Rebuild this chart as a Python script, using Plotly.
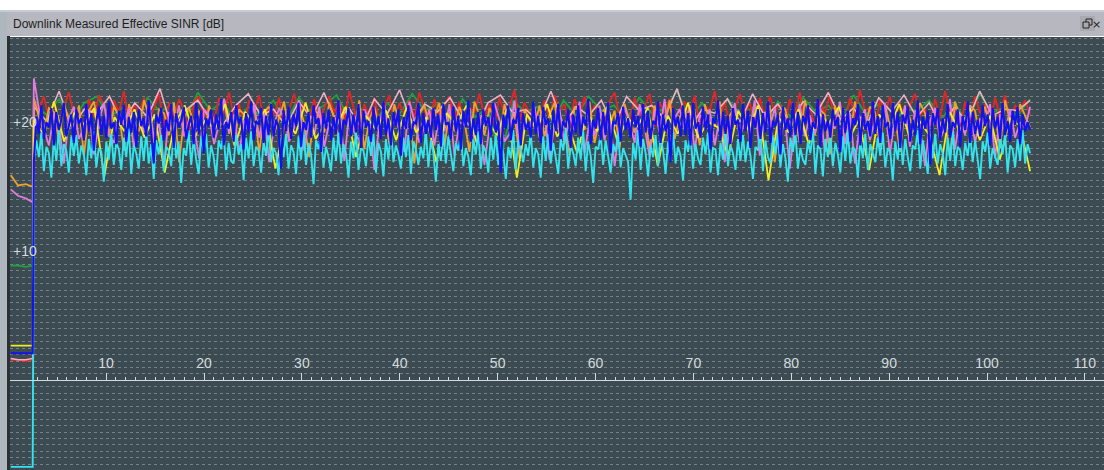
import numpy as np
import plotly.graph_objects as go

# ---- data: per-UE downlink effective SINR samples [dB] ----
PRE_T = [0.25, 1.0, 1.8, 2.5]          # samples before attach
RUN_START, RUN_END = 2.62, 104.4        # span of the measured run

blue_pre = [2.1, 2.1, 2.1, 2.1]
blue = [
    17.0, 20.4, 19.1, 21.3, 18.7, 20.0, 19.6, 21.1, 18.2, 20.8, 19.4, 20.2, 21.5, 18.9, 19.7, 20.6, 18.4, 21.0, 19.9, 20.3,
    18.6, 21.4, 19.3, 20.7, 17.8, 20.1, 21.2, 19.0, 20.5, 18.8, 21.6, 19.5, 20.0, 18.3, 20.9, 19.8, 21.3, 18.5, 20.4, 19.2,
    20.8, 18.1, 21.0, 19.7, 20.3, 18.9, 21.7, 19.4, 16.8, 20.6, 19.9, 21.1, 18.6, 20.2, 19.3, 21.4, 18.0, 20.7, 19.6, 20.1,
    21.2, 18.7, 19.8, 20.5, 18.3, 21.5, 19.1, 20.9, 17.6, 20.3, 19.7, 21.0, 18.8, 20.6, 19.4, 21.8, 18.2, 20.0, 19.5, 20.8,
    18.5, 21.3, 19.9, 20.4, 17.9, 20.7, 19.2, 21.6, 18.6, 20.1, 19.8, 21.1, 18.4, 20.5, 19.0, 21.4, 18.9, 20.2, 19.6, 16.4,
    20.9, 19.3, 21.2, 18.7, 20.6, 19.7, 21.5, 18.1, 20.0, 19.4, 20.8, 18.8, 21.3, 19.9, 20.3, 17.7, 20.7, 19.5, 21.0, 18.6,
    20.4, 19.1, 21.7, 18.3, 20.2, 19.8, 21.1, 18.9, 20.6, 19.2, 21.4, 18.0, 20.9, 19.6, 20.1, 18.5, 21.2, 19.3, 20.5, 18.7,
    21.6, 19.0, 20.3, 18.2, 20.8, 19.7, 21.0, 17.4, 20.4, 19.5, 21.3, 18.6, 20.0, 19.9, 21.5, 18.4, 20.7, 19.1, 20.2, 18.8,
    21.1, 19.4, 20.6, 18.1, 21.4, 19.8, 20.0, 18.7, 21.2, 19.3, 20.5, 17.9, 20.9, 19.6, 21.7, 18.5, 20.3, 19.0, 20.8, 18.3,
    21.0, 19.7, 20.4, 18.9, 21.5, 19.2, 20.1, 16.1, 20.6, 19.5, 21.3, 18.6, 20.2, 19.9, 21.1, 18.2, 20.7, 19.4, 20.0, 18.8,
    21.6, 19.1, 20.5, 18.4, 21.2, 19.8, 20.3, 17.8, 20.9, 19.3, 21.4, 18.7, 20.1, 19.6, 21.0, 18.0, 20.6, 19.2, 21.3, 18.9,
    20.4, 19.7, 21.8, 18.3, 20.2, 19.5, 21.1, 18.6, 20.8, 19.0, 21.5, 17.6, 20.0, 19.9, 20.7, 18.5, 21.2, 19.4, 20.3, 18.8,
    21.0, 19.6, 20.5, 18.1, 21.4, 19.2, 20.9, 18.7, 20.1, 19.8, 21.6, 18.4, 20.6, 19.3, 20.2, 16.9, 21.1, 19.7, 20.4, 18.9,
    21.3, 19.0, 20.7, 18.2, 21.5, 19.5, 20.0, 18.8, 21.2, 19.4, 20.6, 17.9, 20.3, 19.9, 21.7, 18.6, 20.8, 19.1, 20.5, 18.3,
    21.1, 19.8, 20.2, 18.5, 21.4, 19.3, 20.9, 18.0, 20.4, 19.6, 21.0, 18.7, 20.7, 19.2, 21.6, 18.4, 20.1, 19.7, 20.6, 17.5,
    21.2, 19.4, 20.3, 18.9, 21.5, 19.0, 20.8, 18.3, 20.5, 19.9, 21.3, 18.6, 20.0, 19.5, 21.8, 18.1, 20.6, 19.3, 20.2, 18.8,
    21.0, 19.7, 20.4, 17.7, 21.1, 19.2, 20.9, 18.5, 20.3, 19.8, 21.4, 18.2, 20.7, 19.4, 20.1, 18.9, 21.6, 19.1, 20.5, 18.4,
    21.3, 19.6, 20.0, 18.7, 21.5, 19.3, 20.8, 18.0, 20.6, 19.9, 21.2, 18.5, 20.2, 19.0, 21.7, 18.3, 20.4, 19.5, 20.9, 16.7,
    20.7, 19.8, 21.1, 18.6, 20.3, 19.2, 21.4, 18.8, 20.0, 19.6, 21.0, 18.1, 20.5, 19.4, 21.6, 18.4, 20.8, 19.1, 20.2, 18.9,
    21.3, 19.7, 20.6, 18.2, 21.1, 19.5, 20.4, 18.7, 21.5, 19.0, 20.1, 18.5, 20.9, 19.8, 21.2, 18.3, 20.6, 19.3, 20.0, 19.4,
]

cyan_pre = [-6.7, -6.7, -6.7, -6.7]
cyan = [
    16.9, 18.6, 17.3, 19.2, 16.2, 18.1, 17.6, 15.7, 18.8, 17.0, 19.4, 16.6, 18.3, 17.8, 16.1, 18.9, 17.4, 19.0, 16.8, 18.2,
    17.5, 15.9, 18.7, 17.2, 19.3, 16.5, 18.0, 17.7, 15.4, 18.5, 17.1, 19.1, 16.7, 18.4, 17.9, 16.3, 18.8, 17.3, 19.5, 16.0,
    18.2, 17.6, 16.4, 18.9, 17.0, 19.2, 16.8, 18.3, 15.6, 18.6, 17.5, 19.0, 16.2, 18.1, 17.8, 16.6, 19.3, 17.2, 18.5, 15.3,
    18.0, 17.4, 19.4, 16.7, 18.7, 17.1, 16.0, 18.9, 17.7, 19.1, 16.5, 18.2, 17.3, 15.8, 18.6, 17.9, 19.2, 16.3, 18.4, 17.0,
    16.8, 19.0, 17.5, 18.3, 15.5, 18.8, 17.2, 19.3, 16.6, 18.1, 17.8, 16.1, 18.5, 17.4, 19.5, 16.9, 18.0, 17.6, 15.9, 18.7,
    17.3, 19.1, 16.4, 18.2, 17.7, 16.0, 18.9, 17.1, 19.4, 16.7, 18.4, 17.5, 15.2, 18.6, 17.9, 19.0, 16.5, 18.1, 17.3, 16.2,
    18.8, 17.0, 19.2, 16.8, 18.3, 17.6, 15.7, 18.5, 17.2, 19.3, 16.3, 18.0, 17.8, 16.6, 18.9, 17.4, 19.1, 16.1, 18.4, 17.7,
    15.8, 18.7, 17.1, 19.5, 16.9, 18.2, 17.5, 16.4, 18.8, 17.3, 19.0, 16.0, 18.5, 17.9, 16.7, 18.1, 17.2, 19.4, 16.5, 18.6,
    17.6, 15.4, 18.3, 17.0, 19.2, 16.8, 18.9, 17.4, 16.2, 18.4, 17.8, 19.1, 16.6, 18.0, 17.3, 15.9, 18.7, 17.5, 19.3, 16.4,
    18.2, 17.7, 16.1, 18.8, 17.1, 19.0, 16.7, 18.5, 17.6, 15.6, 18.1, 17.2, 19.4, 16.3, 18.6, 17.9, 16.9, 18.3, 17.4, 19.2,
    16.5, 18.0, 17.5, 15.7, 18.9, 17.0, 19.1, 16.8, 18.4, 17.3, 16.0, 18.7, 17.8, 19.5, 16.4, 18.2, 17.6, 16.6, 18.8, 17.1,
    19.3, 16.2, 18.5, 17.4, 15.3, 18.1, 17.9, 19.0, 16.7, 18.6, 17.2, 16.1, 18.3, 17.7, 19.2, 16.5, 18.0, 17.5, 16.9, 14.0,
    18.4, 17.1, 19.4, 16.3, 18.7, 17.6, 15.8, 18.2, 17.3, 19.0, 16.6, 18.9, 17.8, 16.0, 18.5, 17.0, 19.3, 16.8, 18.1, 17.4,
    15.5, 18.6, 17.7, 19.1, 16.4, 18.3, 17.2, 16.7, 18.8, 17.5, 19.2, 16.1, 18.0, 17.9, 15.9, 18.4, 17.1, 19.5, 16.6, 18.2,
    17.6, 16.3, 18.7, 17.0, 19.0, 16.9, 18.5, 17.4, 15.6, 18.1, 17.8, 19.3, 16.2, 18.6, 17.3, 16.8, 18.9, 17.5, 19.1, 16.5,
    18.3, 17.2, 15.4, 18.8, 17.7, 19.2, 16.4, 18.0, 17.1, 16.7, 18.5, 17.6, 19.4, 16.0, 18.2, 17.9, 15.8, 18.7, 17.3, 19.0,
    16.6, 18.4, 17.5, 16.1, 18.9, 17.0, 19.3, 16.8, 18.1, 17.8, 15.7, 18.6, 17.2, 19.1, 16.3, 18.3, 17.6, 16.9, 18.8, 17.4,
    19.2, 16.5, 18.0, 17.7, 15.5, 18.5, 17.1, 19.0, 16.7, 18.7, 17.3, 16.2, 18.2, 17.9, 19.4, 16.4, 18.6, 17.5, 16.0, 18.9,
    17.2, 19.1, 16.8, 18.3, 17.6, 15.9, 18.8, 17.0, 19.3, 16.6, 18.1, 17.8, 16.3, 18.4, 17.4, 19.0, 16.9, 18.6, 17.1, 15.6,
    18.5, 17.7, 19.2, 16.4, 18.0, 17.3, 16.7, 18.9, 17.5, 19.1, 16.1, 18.2, 17.9, 16.5, 18.7, 17.0, 19.4, 16.8, 18.3, 17.6,
]

orange_pre = [15.9, 15.1, 15.2, 15.0]
orange = [
    21.9, 20.4, 19.2, 21.1, 20.8, 18.6, 21.5, 20.0, 19.7, 21.3, 17.4, 20.9, 21.6, 19.5, 20.2, 18.9, 21.2, 20.6, 17.8, 21.4,
    20.1, 19.3, 21.7, 20.5, 18.4, 21.0, 20.7, 19.0, 21.5, 16.9, 20.3, 21.1, 19.8, 20.9, 18.7, 21.3, 20.0, 19.4, 21.8, 20.2,
    18.2, 21.0, 20.6, 19.6, 21.4, 17.6, 20.8, 21.2, 19.1, 20.4, 21.6, 18.8, 20.1, 21.3, 19.9, 17.3, 21.0, 20.5, 19.2, 21.5,
    20.3, 18.5, 21.1, 20.7, 19.4, 21.7, 17.9, 20.2, 21.2, 19.7, 20.9, 18.3, 21.4, 20.0, 19.5, 21.0, 16.8, 20.6, 21.3, 19.8,
    20.4, 21.5, 18.1, 20.8, 19.3, 21.2, 20.1, 17.7, 21.6, 20.5, 19.0, 21.1, 20.3, 18.6, 21.4, 19.9, 20.7, 17.2, 21.0, 20.2,
    19.6, 21.3, 18.9, 20.6, 21.5, 19.1, 20.0, 17.5, 21.2, 20.8, 19.4, 21.6, 18.4, 20.3, 21.0, 19.7, 20.9, 18.0, 21.4, 20.1,
    19.2, 21.1, 20.5, 17.9, 21.3, 20.0, 19.6, 21.7, 18.7, 20.4, 21.0, 19.5, 20.8, 18.2, 21.4, 20.1, 19.7, 21.6, 17.8, 20.5,
    21.2, 19.3, 20.9, 18.6, 21.5, 20.0, 19.9, 21.3, 16.9, 20.7, 21.1, 19.6, 20.4, 18.4, 21.7, 20.2, 19.0, 21.0, 20.6, 17.5,
    21.3, 19.8, 20.3, 18.8, 21.6, 20.0, 19.4, 21.2, 20.8, 18.1, 21.4, 19.7, 20.5, 17.7, 21.1, 20.3, 19.2, 21.5, 20.7, 18.5,
    21.0, 19.9, 20.2, 17.2, 21.6, 20.4, 19.1, 21.3, 20.9, 18.7, 21.2, 19.5, 20.6, 18.0, 21.7, 20.1, 19.8, 21.4, 20.5, 19.6,
]

violet_pre = [14.8, 14.3, 14.1, 13.8]
violet = [
    23.4, 21.0, 19.5, 18.2, 20.6, 19.9, 16.8, 20.3, 21.2, 18.7, 19.6, 20.9, 17.5, 20.1, 21.5, 19.0, 18.4, 20.7, 19.8, 21.1,
    17.9, 20.4, 19.2, 21.6, 18.6, 20.0, 16.5, 20.8, 19.4, 21.3, 18.9, 20.2, 19.7, 17.2, 21.0, 20.5, 18.3, 19.9, 21.8, 19.1,
    20.6, 17.6, 20.1, 19.3, 21.4, 18.8, 20.7, 16.9, 19.8, 21.1, 20.3, 18.5, 19.6, 21.7, 17.8, 20.4, 19.0, 21.2, 18.1, 20.0,
    19.5, 21.5, 17.0, 20.8, 19.2, 18.6, 21.0, 20.2, 16.3, 19.9, 21.3, 18.9, 20.5, 19.4, 17.7, 21.6, 20.1, 18.4, 19.7, 21.0,
    18.2, 20.6, 19.3, 21.4, 17.4, 20.0, 19.8, 21.1, 18.7, 20.4, 16.7, 19.6, 21.5, 20.2, 18.5, 19.1, 21.7, 17.9, 20.3, 19.5,
    21.2, 18.8, 20.7, 17.1, 19.9, 21.0, 18.3, 20.5, 19.4, 21.6, 17.6, 20.1, 19.0, 21.3, 18.6, 20.8, 16.6, 19.7, 21.1, 20.0,
    18.4, 21.4, 19.6, 17.3, 20.9, 19.2, 21.8, 18.1, 20.3, 21.0, 19.4, 21.3, 17.8, 20.6, 19.9, 21.0, 18.2, 20.4, 16.9, 19.7,
    21.5, 18.8, 20.1, 19.3, 21.7, 17.4, 20.8, 19.6, 21.1, 18.5, 20.3, 16.4, 19.8, 21.4, 18.9, 20.5, 19.1, 21.2, 17.7, 20.0,
    19.5, 21.6, 18.3, 20.7, 16.8, 19.9, 21.0, 18.6, 20.2, 19.4, 21.5, 17.5, 20.4, 19.2, 21.3, 18.1, 20.9, 19.7, 16.6, 20.1,
    21.1, 18.7, 19.6, 21.8, 17.9, 20.5, 19.0, 21.2, 18.4, 20.3, 19.8, 21.4, 17.2, 20.6, 19.3, 21.0, 18.8, 20.0, 19.5, 21.2,
]

red_pre = [1.6, 1.6, 1.5, 1.6]
red = [
    21.5, 20.9, 22.0, 20.3, 21.6, 19.8, 21.2, 22.3, 20.6, 21.0, 19.5, 21.8, 20.4, 22.1, 21.3, 20.0, 21.7, 20.8, 22.4, 19.9,
    21.4, 20.7, 21.9, 20.2, 21.1, 22.2, 19.6, 21.5, 20.5, 21.8, 20.9, 19.3, 21.6, 22.0, 20.4, 21.2, 20.1, 21.9, 20.7, 22.3,
    20.3, 21.4, 19.7, 21.7, 20.8, 22.1, 20.0, 21.3, 20.6, 21.9, 19.4, 21.0, 22.2, 20.5, 21.5, 20.2, 21.8, 19.8, 21.1, 22.0,
    20.7, 21.6, 20.1, 22.4, 20.9, 19.5, 21.4, 20.4, 21.9, 20.0, 21.2, 22.1, 19.9, 21.5, 20.6, 21.7, 20.3, 22.3, 21.0, 19.6,
    21.8, 20.5, 21.3, 22.0, 20.2, 21.6, 19.7, 21.1, 20.8, 22.2, 20.4, 21.4, 19.9, 21.9, 20.6, 21.2, 22.5, 20.1, 21.5, 20.7,
    21.0, 19.8, 21.7, 20.3, 22.1, 20.9, 21.4, 19.5, 21.8, 20.6, 22.0, 20.2, 21.3, 20.8, 19.9, 21.6, 22.3, 20.4, 21.1, 20.0,
    21.9, 20.5, 21.2, 22.2, 19.7, 21.5, 20.7, 21.8, 20.3, 21.0, 21.6, 20.4, 22.1, 19.8, 21.3, 20.9, 22.4, 20.2, 21.7, 19.5,
    21.0, 22.2, 20.6, 21.5, 19.9, 21.9, 20.3, 22.0, 20.8, 21.4, 19.7, 21.8, 20.5, 22.3, 20.1, 21.2, 19.6, 21.6, 20.7, 22.1,
    20.0, 21.4, 19.8, 21.9, 20.4, 22.5, 20.9, 21.1, 19.4, 21.7, 20.6, 22.0, 20.2, 21.5, 19.9, 21.3, 22.2, 20.5, 21.0, 19.7,
    21.8, 20.3, 22.4, 20.8, 21.2, 19.5, 21.6, 20.1, 22.0, 20.7, 21.4, 19.8, 21.9, 20.4, 22.1, 20.0, 21.3, 20.9, 21.7, 20.6,
]

green_pre = [8.9, 8.9, 8.8, 8.9]
green = [
    21.3, 20.6, 21.8, 20.1, 21.5, 22.0, 20.4, 21.1, 19.7, 21.9, 20.8, 21.4, 20.2, 22.3, 20.9, 21.6, 19.9, 21.2, 20.5, 21.7,
    20.0, 21.9, 20.7, 21.3, 22.1, 20.3, 21.0, 19.8, 21.5, 20.6, 22.2, 20.9, 21.4, 20.1, 21.8, 20.4, 21.1, 17.0, 21.6, 20.8,
    21.2, 19.6, 21.7, 20.5, 22.0, 20.9, 21.3, 20.2, 21.9, 20.7, 21.0, 22.4, 20.3, 21.5, 20.0, 21.8, 20.6, 21.1, 19.9, 21.6,
    20.4, 21.9, 20.8, 21.3, 20.1, 22.1, 20.6, 21.4, 19.7, 21.0, 20.9, 21.7, 20.3, 21.5, 20.0, 22.2, 20.7, 21.2, 20.5, 21.8,
]

yellow_pre = [2.7, 2.7, 2.7, 2.7]
yellow = [
    20.2, 19.0, 21.6, 18.5, 20.7, 19.8, 21.1, 15.8, 20.4, 19.3, 21.0, 18.8, 20.6, 16.1, 19.9, 21.3, 18.9, 20.1, 19.5, 21.4,
    18.2, 20.8, 19.7, 21.0, 16.4, 20.3, 19.1, 21.5, 18.7, 20.0, 19.6, 21.2, 17.3, 20.5, 19.4, 20.9, 18.6, 21.1, 19.2, 20.4,
    16.9, 20.7, 19.8, 21.3, 18.4, 20.2, 19.0, 21.0, 15.7, 20.6, 19.5, 21.4, 18.9, 20.1, 17.6, 20.8, 19.3, 21.2, 18.5, 20.3,
    19.7, 21.1, 16.6, 20.5, 19.1, 21.5, 18.8, 20.0, 19.6, 17.4, 20.9, 19.4, 21.3, 15.5, 20.4, 19.2, 21.0, 18.3, 20.7, 19.9,
    21.2, 18.7, 20.2, 16.3, 20.6, 19.5, 21.4, 18.9, 20.1, 19.0, 15.9, 20.8, 19.3, 21.1, 18.6, 20.5, 17.1, 20.3, 19.7, 16.2,
]

pink_pre = [1.7, 1.6, 1.6, 1.7]
pink = [
    21.2, 20.1, 22.4, 19.6, 21.0, 20.7, 22.0, 19.9, 21.5, 20.4, 22.6, 19.3, 20.9, 21.7, 20.2, 19.8, 21.3, 22.2, 20.5, 21.0,
    19.7, 21.6, 20.3, 22.3, 20.0, 21.1, 19.5, 21.8, 20.6, 22.5, 19.9, 21.4, 20.8, 21.9, 20.2, 19.4, 21.5, 22.1, 20.7, 21.0,
    20.1, 22.4, 19.8, 21.2, 20.5, 21.7, 19.6, 22.0, 20.9, 21.3, 20.3, 22.6, 19.5, 21.0, 20.7, 21.8, 20.0, 22.2, 20.4, 21.4,
    19.9, 21.6, 20.6, 22.3, 20.2, 21.1, 19.7, 21.9, 20.8, 22.1, 20.4, 21.5, 19.6, 21.2, 20.0, 22.4, 20.5, 21.0, 20.9, 21.7,
]

X_TICKS = [10, 20, 30, 40, 50, 60, 70, 80, 90, 100, 110]
Y_TICKS = [10, 20]
Y_TICK_TEXT = ["+10", "+20"]

# drawn back to front: (name, pre-attach samples, run samples, colour, width)
series = [
    ("green", green_pre, green, "#22a040", 1.8),
    ("red", red_pre, red, "#e62626", 1.8),
    ("pink", pink_pre, pink, "#f0b0c6", 1.6),
    ("orange", orange_pre, orange, "#f0a030", 1.8),
    ("violet", violet_pre, violet, "#e07ce0", 1.8),
    ("yellow", yellow_pre, yellow, "#f0ee22", 1.8),
    ("cyan", cyan_pre, cyan, "#33e4ee", 1.9),
    ("blue", blue_pre, blue, "#1212ee", 2.1),
]

# ---- page geometry (pixels) ----
W, H = 1104, 470
ML, MT = 10, 37
PW, PH = W - ML, H - MT
X_RANGE = [0.18, 111.95]
Y_RANGE = [-6.94, 26.6]


def px(x):
    return (x - ML) / PW


def py(y):
    return 1 - (y - MT) / PH


fig = go.Figure()
for name, pre, vals, color, width in series:
    t = PRE_T + list(np.linspace(RUN_START, RUN_END, len(vals)))
    fig.add_trace(go.Scatter(
        x=t, y=pre + vals, mode="lines", name=name,
        line=dict(color=color, width=width), hoverinfo="skip",
    ))

axis_zero = (0 - Y_RANGE[0]) / (Y_RANGE[1] - Y_RANGE[0])
label_col = "#d4dadd"

fig.update_layout(
    width=W, height=H,
    margin=dict(l=ML, r=0, t=MT, b=0, pad=0),
    paper_bgcolor="#ffffff",
    plot_bgcolor="#3c4b51",
    showlegend=False,
    xaxis=dict(
        range=X_RANGE, anchor="free", position=axis_zero, side="top",
        tickvals=X_TICKS, ticks="outside", ticklen=7, tickwidth=1, tickcolor=label_col,
        showline=True, linecolor=label_col, linewidth=1,
        tickfont=dict(family="Liberation Sans, Arial", size=14, color=label_col),
        minor=dict(ticks="outside", dtick=1, ticklen=3, tickcolor=label_col, showgrid=False),
        showgrid=False, zeroline=False, fixedrange=True,
    ),
    yaxis=dict(
        range=Y_RANGE, tickvals=Y_TICKS, ticktext=Y_TICK_TEXT,
        ticklabelposition="inside", ticks="",
        tickfont=dict(family="Liberation Sans, Arial", size=14, color=label_col),
        showgrid=False, zeroline=False, showline=False, fixedrange=True,
        minor=dict(dtick=0.5, showgrid=True, gridcolor="rgba(160,176,182,0.55)",
                   griddash="dot", gridwidth=1),
    ),
)

shapes = [
    # window frame: left border strip and dark edge
    dict(type="rect", xref="paper", yref="paper", x0=px(0), x1=px(7), y0=py(H), y1=py(12),
         fillcolor="#aeb6be", line_width=0, layer="above"),
    dict(type="rect", xref="paper", yref="paper", x0=px(7), x1=px(10), y0=py(H), y1=py(12),
         fillcolor="#2a3034", line_width=0, layer="above"),
    # title bar
    dict(type="rect", xref="paper", yref="paper", x0=px(7), x1=px(W), y0=py(36), y1=py(12),
         fillcolor="#b7b7bf", line_width=0, layer="above"),
    dict(type="line", xref="paper", yref="paper", x0=px(0), x1=px(W), y0=py(11), y1=py(11),
         line=dict(color="#c4ccd8", width=2), layer="above"),
    # restore button
    dict(type="rect", xref="paper", yref="paper", x0=px(1080), x1=px(1095), y0=py(31), y1=py(16),
         fillcolor="#a9a9b1", line_width=0, layer="above"),
    dict(type="rect", xref="paper", yref="paper", x0=px(1086), x1=px(1092), y0=py(25), y1=py(19),
         line=dict(color="#222222", width=1), layer="above"),
    dict(type="rect", xref="paper", yref="paper", x0=px(1083), x1=px(1089), y0=py(28), y1=py(22),
         fillcolor="#a9a9b1", line=dict(color="#222222", width=1), layer="above"),
]
fig.update_layout(shapes=shapes)

fig.add_annotation(
    text="Downlink Measured Effective SINR [dB]", xref="paper", yref="paper",
    x=px(11), y=py(24), xanchor="left", yanchor="middle", showarrow=False,
    font=dict(family="Liberation Sans, Arial", size=12, color="#1e1e1e"),
)
fig.add_annotation(
    text="×", xref="paper", yref="paper", x=px(1103), y=py(24), xanchor="right",
    yanchor="middle", showarrow=False,
    font=dict(family="DejaVu Sans", size=11, color="#222222"),
)

fig.write_html("out.html", config={"displayModeBar": False, "staticPlot": True})
